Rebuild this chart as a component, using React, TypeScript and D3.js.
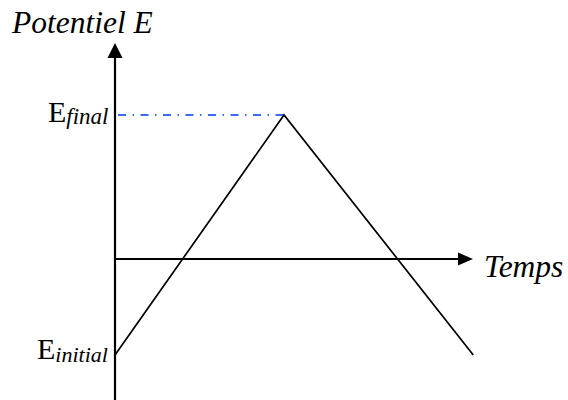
import React from "react";
import * as d3 from "d3";

// Conceptual data: cyclic voltammetry potential sweep
const times = [0, 10, 21.2];
const potentials = [-2, 3, -2];
const E_INITIAL = -2;
const E_FINAL = 3;
const T_PEAK = 10;
const axisLabelY = "Potentiel E";
const axisLabelX = "Temps";

const W = 568;
const H = 400;

export default function App() {
  const x = d3.scaleLinear().domain([0, 10]).range([115, 284]);
  const y = d3.scaleLinear().domain([0, 3]).range([259, 115]);

  const line = d3
    .line<number>()
    .x((_, i) => x(times[i]))
    .y((d) => y(d));

  const x0 = x(0);
  const y0 = y(0);
  const yTop = 43;
  const xRight = 473;
  const serif = "'Liberation Serif', 'Times New Roman', serif";

  return (
    <svg
      width={W}
      height={H}
      style={{ position: "absolute", left: 0, top: 0, background: "#fff" }}
      fontFamily={serif}
    >
      {/* dash-dot guide to E_final */}
      <line
        x1={x0 + 3}
        x2={x(T_PEAK)}
        y1={y(E_FINAL)}
        y2={y(E_FINAL)}
        stroke="#3b6cf5"
        strokeWidth={2}
        strokeDasharray="8 6.5 1.5 6.5"
      />
      {/* potential sweep */}
      <path d={line(potentials) || ""} fill="none" stroke="#000" strokeWidth={1.7} />
      {/* y axis */}
      <line x1={x0} x2={x0} y1={H} y2={yTop + 14} stroke="#000" strokeWidth={2.2} />
      <path
        d={`M${x0},${yTop} L${x0 - 7.5},${yTop + 15} L${x0 + 7.5},${yTop + 15} Z`}
        fill="#000"
      />
      {/* x axis */}
      <line x1={x0} x2={xRight - 14} y1={y0} y2={y0} stroke="#000" strokeWidth={2.2} />
      <path
        d={`M${xRight},${y0} L${xRight - 15},${y0 - 6.5} L${xRight - 15},${y0 + 6.5} Z`}
        fill="#000"
      />
      {/* labels */}
      <text x={12} y={33} fontSize={31.5} fontStyle="italic">
        {axisLabelY}
      </text>
      <text x={484} y={277} fontSize={31.5} fontStyle="italic">
        {axisLabelX}
      </text>
      <text x={48} y={y(E_FINAL) + 7} fontSize={30}>
        E
        <tspan fontSize={23} fontStyle="italic" dy={2}>
          final
        </tspan>
      </text>
      <text x={37} y={y(E_INITIAL) + 4} fontSize={30}>
        E
        <tspan fontSize={22} fontStyle="italic" dy={3}>
          initial
        </tspan>
      </text>
    </svg>
  );
}
